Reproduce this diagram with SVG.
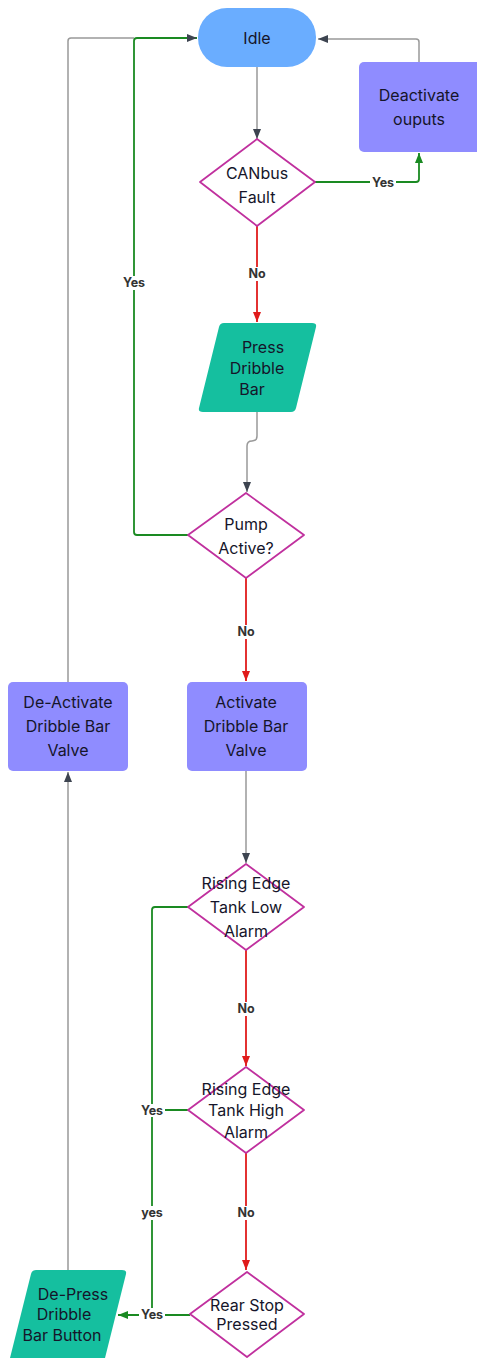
<svg xmlns="http://www.w3.org/2000/svg" width="477" height="1358" viewBox="0 0 477 1358">
<defs>
<marker id="ad" viewBox="0 0 10 10" refX="10" refY="5" markerWidth="10" markerHeight="10" markerUnits="userSpaceOnUse" orient="auto"><path d="M0,1 L10,5 L0,9 Z" fill="#3d4450"/></marker>
<marker id="ar" viewBox="0 0 10 10" refX="10" refY="5" markerWidth="10" markerHeight="10" markerUnits="userSpaceOnUse" orient="auto"><path d="M0,1 L10,5 L0,9 Z" fill="#e01b1b"/></marker>
<marker id="ag" viewBox="0 0 10 10" refX="10" refY="5" markerWidth="10" markerHeight="10" markerUnits="userSpaceOnUse" orient="auto"><path d="M0,1 L10,5 L0,9 Z" fill="#1a8a22"/></marker>
</defs>
<style>
text{font-family:Inter,"Liberation Sans",sans-serif;fill:#15152a;text-anchor:middle}
.t{font-size:16px}
.l{font-size:12.5px;font-weight:bold;fill:#333}
.lb{fill:#fff}
.gray{fill:none;stroke:#999;stroke-width:1.5}
.red{fill:none;stroke:#e01b1b;stroke-width:1.8}
.grn{fill:none;stroke:#1a8a22;stroke-width:1.8}
.dia{fill:#fff;stroke:#c0309e;stroke-width:1.8;stroke-linejoin:round}
.box{fill:#8f8cff}
.par{fill:#15bf9f}
</style>
<rect width="477" height="1358" fill="#fff"/>
<g id="connectors">
<path class="gray" d="M68,682 V41 Q68,38 71,38 H134"/>
<path class="grn" d="M188,535 H137 Q134,535 134,532 V41 Q134,38 137,38 H197" marker-end="url(#ad)"/>
<path class="gray" d="M419,62 V42 Q419,39 416,39 H318" marker-end="url(#ad)"/>
<path class="gray" d="M257,67 V139" marker-end="url(#ad)"/>
<path class="grn" d="M315,182 H416 Q419,182 419,179 V153" marker-end="url(#ag)"/>
<rect x="370" y="176" width="26" height="13" class="lb"/>
<text class="l" x="383" y="187">Yes</text>
<path class="red" d="M257,226 V322" marker-end="url(#ar)"/>
<rect x="246" y="267" width="22" height="14" class="lb"/>
<text class="l" x="257" y="278">No</text>
<rect x="121" y="276" width="26" height="14" class="lb"/>
<text class="l" x="134" y="287">Yes</text>
<path class="gray" d="M257,412 V436 Q257,441 252,441 Q247,441 247,446 V492" marker-end="url(#ad)"/>
<path class="red" d="M246,578 V681" marker-end="url(#ar)"/>
<rect x="235" y="625" width="22" height="14" class="lb"/>
<text class="l" x="246" y="636">No</text>
<path class="gray" d="M246,771 V863" marker-end="url(#ad)"/>
<path class="gray" d="M68,1270 V772" marker-end="url(#ad)"/>
<path class="grn" d="M188,907 H155 Q152,907 152,910 V1312 Q152,1315 149,1315"/>
<path class="grn" d="M190,1315 H118" marker-end="url(#ag)"/>
<path class="grn" d="M188,1110 H152"/>
<rect x="139" y="1104" width="26" height="13" class="lb"/>
<text class="l" x="152" y="1115">Yes</text>
<rect x="139" y="1206" width="26" height="14" class="lb"/>
<text class="l" x="152" y="1217">yes</text>
<rect x="139" y="1308" width="26" height="13" class="lb"/>
<text class="l" x="152" y="1319">Yes</text>
<path class="red" d="M246,950 V1066" marker-end="url(#ar)"/>
<rect x="235" y="1002" width="22" height="14" class="lb"/>
<text class="l" x="246" y="1013">No</text>
<path class="red" d="M246,1153 V1270" marker-end="url(#ar)"/>
<rect x="235" y="1206" width="22" height="14" class="lb"/>
<text class="l" x="246" y="1217">No</text>
</g>
<g id="idle">
<rect x="198" y="8" width="118" height="59" rx="29" fill="#6aadff"/>
<text class="t" x="257" y="44">Idle</text>
</g>
<g id="deactivate-outputs">
<rect x="359" y="62" width="122" height="90" rx="5" class="box"/>
<text class="t" x="419" y="101">Deactivate</text>
<text class="t" x="419" y="125">ouputs</text>
</g>
<g id="canbus-fault">
<path class="dia" d="M257,139 L315,182 L257,226 L200,182 Z"/>
<text class="t" x="257" y="179">CANbus</text>
<text class="t" x="257" y="203">Fault</text>
</g>
<g id="press-dribble-bar">
<path class="par" d="M224,323 H312 Q317,323 316,327 L296,408 Q295,412 291,412 H203 Q198,412 199,408 L219,327 Q220,323 224,323 Z"/>
<text class="t" x="263" y="353">Press</text>
<text class="t" x="257" y="374">Dribble</text>
<text class="t" x="252" y="395">Bar</text>
</g>
<g id="pump-active">
<path class="dia" d="M246,493 L304,535 L246,578 L188,535 Z"/>
<text class="t" x="246" y="530">Pump</text>
<text class="t" x="246" y="554">Active?</text>
</g>
<g id="activate-valve">
<rect x="187" y="682" width="120" height="89" rx="5" class="box"/>
<text class="t" x="246" y="708">Activate</text>
<text class="t" x="246" y="732">Dribble Bar</text>
<text class="t" x="246" y="756">Valve</text>
</g>
<g id="deactivate-valve">
<rect x="8" y="682" width="120" height="89" rx="5" class="box"/>
<text class="t" x="68" y="708">De-Activate</text>
<text class="t" x="68" y="732">Dribble Bar</text>
<text class="t" x="68" y="756">Valve</text>
</g>
<g id="tank-low">
<path class="dia" d="M246,864 L304,907 L246,950 L188,907 Z"/>
<text class="t" x="246" y="889">Rising Edge</text>
<text class="t" x="246" y="913">Tank Low</text>
<text class="t" x="246" y="937">Alarm</text>
</g>
<g id="tank-high">
<path class="dia" d="M246,1067 L304,1110 L246,1153 L188,1110 Z"/>
<text class="t" x="246" y="1095">Rising Edge</text>
<text class="t" x="246" y="1116">Tank High</text>
<text class="t" x="246" y="1138">Alarm</text>
</g>
<g id="rear-stop">
<path class="dia" d="M247,1272 L304,1314 L247,1357 L190,1314 Z"/>
<text class="t" x="247" y="1311">Rear Stop</text>
<text class="t" x="247" y="1330">Pressed</text>
</g>
<g id="depress-button">
<path class="par" d="M36,1270 H122 Q127,1270 126,1274 L105,1358 H10 L31,1274 Q32,1270 36,1270 Z"/>
<text class="t" x="73" y="1300">De-Press</text>
<text class="t" x="64" y="1320">Dribble</text>
<text class="t" x="62" y="1341">Bar Button</text>
</g>
</svg>
